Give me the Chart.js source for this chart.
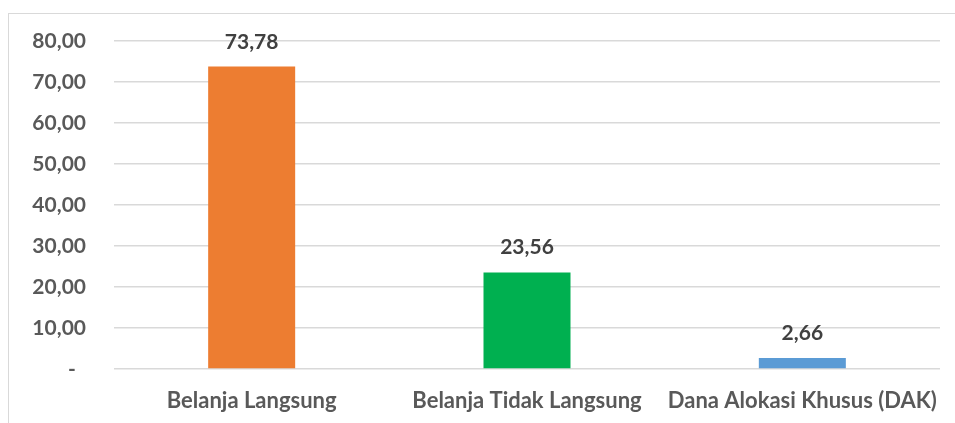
<!DOCTYPE html>
<html>
<head>
<meta charset="utf-8">
<script src="https://cdn.jsdelivr.net/npm/chart.js@4"></script>
<style>
  html, body { margin: 0; padding: 0; background: #fff; overflow: hidden; }
  #frame { position: absolute; left: 8px; top: 13px; width: 960px; height: 430px; border: 1px solid #d9d9d9; box-sizing: border-box; }
  #wrap { position: absolute; left: 0; top: 0; width: 946px; height: 409px; }
</style>
</head>
<body>
<div id="frame"><div id="wrap"><canvas id="c" width="946" height="409"></canvas></div></div>
<script>
const categories = ["Belanja Langsung", "Belanja Tidak Langsung", "Dana Alokasi Khusus (DAK)"];
const values = [73.78, 23.56, 2.66];
const barColors = ["#ED7D31", "#00B050", "#5B9BD5"];
const yTicks = [0, 10, 20, 30, 40, 50, 60, 70, 80];

const FONT = "Lato";
const fmt = v => v.toFixed(2).replace(".", ",");

const labelPlugin = {
  id: "valueLabels",
  afterDatasetsDraw(chart) {
    const ctx = chart.ctx;
    const meta = chart.getDatasetMeta(0);
    ctx.save();
    ctx.font = "bold 21px " + FONT;
    ctx.fillStyle = "#404040";
    ctx.textAlign = "center";
    ctx.textBaseline = "alphabetic";
    meta.data.forEach((bar, i) => {
      ctx.fillText(fmt(values[i]), bar.x, bar.y - 18);
    });
    ctx.restore();
  }
};

new Chart(document.getElementById("c"), {
  type: "bar",
  data: {
    labels: categories,
    datasets: [{
      data: values,
      backgroundColor: barColors,
      borderWidth: 0,
      categoryPercentage: 1,
      barPercentage: 0.316
    }]
  },
  options: {
    responsive: false,
    animation: false,
    devicePixelRatio: 1,
    layout: { padding: { left: 0, right: 15, top: 27, bottom: 0 } },
    plugins: { legend: { display: false }, tooltip: { enabled: false } },
    scales: {
      x: {
        grid: { display: false, drawTicks: false },
        border: { display: false },
        ticks: { color: "#595959", font: { family: FONT, size: 22, weight: "bold" }, padding: 19, maxRotation: 0 },
        afterFit(s) { s.height = 54; s.paddingLeft = 0; s.paddingRight = 0; }
      },
      y: {
        min: 0, max: 80,
        afterBuildTicks(s) { s.ticks = yTicks.map(v => ({ value: v })); },
        grid: { color: "#d9d9d9", lineWidth: 1.5, drawTicks: false },
        border: { display: false },
        ticks: {
          color: "#595959",
          font: { family: FONT, size: 21, weight: "bold" },
          padding: 28,
          callback: v => v === 0 ? "-  " : fmt(v)
        },
        afterFit(s) { s.width = 105; s.paddingTop = 0; s.paddingBottom = 0; }
      }
    }
  },
  plugins: [labelPlugin]
});
</script>
</body>
</html>
